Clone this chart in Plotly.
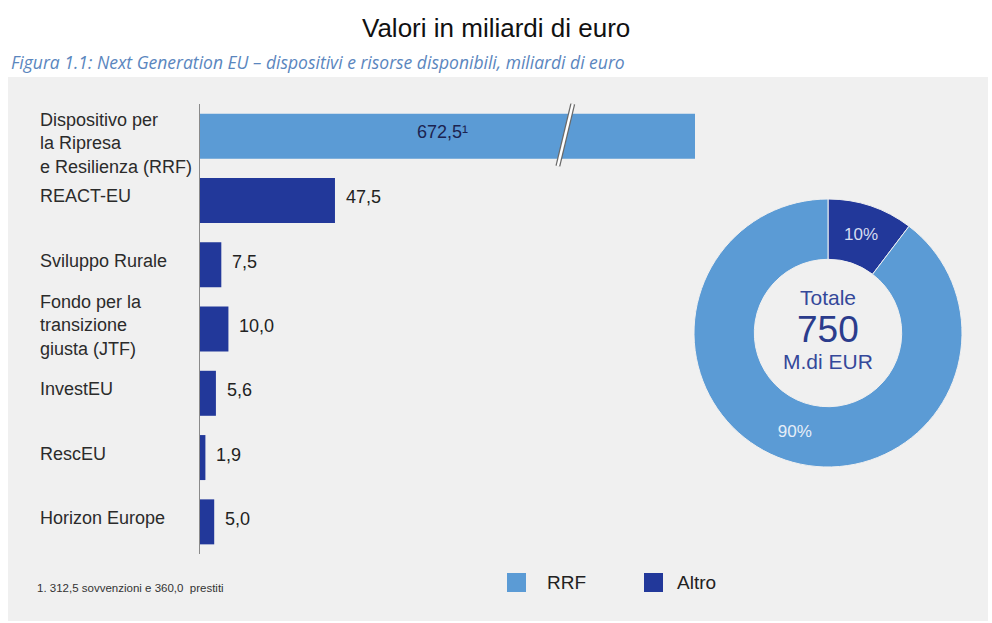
import plotly.graph_objects as go

# ---- data ----
categories = ["Dispositivo per<br>la Ripresa<br>e Resilienza (RRF)", "REACT-EU", "Sviluppo Rurale",
              "Fondo per la<br>transizione<br>giusta (JTF)", "InvestEU", "RescEU", "Horizon Europe"]
values = [672.5, 47.5, 7.5, 10.0, 5.6, 1.9, 5.0]
groups = ["RRF", "Altro", "Altro", "Altro", "Altro", "Altro", "Altro"]
value_labels = ["672,5¹", "47,5", "7,5", "10,0", "5,6", "1,9", "5,0"]
series_names = ["RRF", "Altro"]
total_label = "750"

W, H = 992, 623
COLORS = {"RRF": "#5B9BD5", "Altro": "#22389A"}

def px_x(p):
    return p / W

def px_y(p):
    return 1 - p / H

X_MAX = 174.2  # axis cut (broken bar)

fig = go.Figure()
for g in series_names:
    xs = [v for v, gg in zip(values, groups) if gg == g]
    ys = [c for c, gg in zip(categories, groups) if gg == g]
    fig.add_trace(go.Bar(x=xs, y=ys, orientation="h", name=g, marker_color=COLORS[g],
                         marker_line_width=0, hoverinfo="skip", showlegend=False))

totals = {g: sum(v for v, gg in zip(values, groups) if gg == g) for g in series_names}
pie_order = ["Altro", "RRF"]
fig.add_trace(go.Pie(labels=pie_order, values=[totals[g] for g in pie_order], hole=0.55, sort=False,
                     direction="clockwise", rotation=0,
                     marker=dict(colors=[COLORS[g] for g in pie_order], line=dict(color="#f0f0f0", width=1)),
                     texttemplate="%{percent:.0%}", textposition="inside",
                     insidetextorientation="horizontal",
                     textfont=dict(family="Arial", size=17, color=["#d6ddf0", "#e6eef8"]),
                     domain=dict(x=[px_x(694), px_x(962)], y=[px_y(467), px_y(199)]),
                     showlegend=False, hoverinfo="skip"))

annotations = []
# category labels (left aligned); the three-line RRF label sits a bit lower
for i, c in enumerate(categories):
    annotations.append(dict(x=px_x(38), xref="paper", y=c, yref="y", text=c, showarrow=False,
                            xanchor="left", yanchor="middle", align="left",
                            yshift=-7 if i == 0 else 4,
                            font=dict(family="Arial", size=18, color="#2b2b2b")))
# value labels
for c, v, lab, g in zip(categories, values, value_labels, groups):
    if v > X_MAX:
        annotations.append(dict(x=X_MAX * 0.49, xref="x", y=c, yref="y", text=lab, showarrow=False,
                                xanchor="center", yanchor="middle", yshift=4,
                                font=dict(family="Arial", size=18, color="#1c2350")))
    else:
        annotations.append(dict(x=v, xref="x", y=c, yref="y", text=lab, showarrow=False,
                                xanchor="left", yanchor="middle", xshift=9, yshift=3,
                                font=dict(family="Arial", size=18, color="#222222")))
# titles
annotations.append(dict(x=0.5, xref="paper", y=px_y(28), yref="paper", text="Valori in miliardi di euro",
                        showarrow=False, xanchor="center", yanchor="middle",
                        font=dict(family="Arial", size=26, color="#111111")))
annotations.append(dict(x=px_x(9), xref="paper", y=px_y(62), yref="paper",
                        text="<i>Figura 1.1: Next Generation EU – dispositivi e risorse disponibili, miliardi di euro</i>",
                        showarrow=False, xanchor="left", yanchor="middle",
                        font=dict(family="Open Sans", size=17.5, color="#5A86BE")))
# donut centre
cx = px_x(828)
annotations += [
    dict(x=cx, xref="paper", y=px_y(297), yref="paper", text="Totale", showarrow=False,
         xanchor="center", yanchor="middle",
         font=dict(family="Arial", size=21, color="#34489A")),
    dict(x=cx, xref="paper", y=px_y(330), yref="paper", text=total_label, showarrow=False,
         xanchor="center", yanchor="middle",
         font=dict(family="Arial", size=37, color="#2B3C8C")),
    dict(x=cx, xref="paper", y=px_y(361), yref="paper", text="M.di EUR", showarrow=False,
         xanchor="center", yanchor="middle",
         font=dict(family="Arial", size=21, color="#34489A")),
]
# footnote
annotations.append(dict(x=px_x(35), xref="paper", y=px_y(588), yref="paper",
                        text="1. 312,5 sovvenzioni e 360,0  prestiti", showarrow=False,
                        xanchor="left", yanchor="middle",
                        font=dict(family="Liberation Sans Narrow, Arial Narrow, Arial", size=11.5, color="#333333")))

shapes = [
    dict(type="rect", xref="paper", yref="paper", x0=px_x(8), x1=px_x(988), y0=px_y(621), y1=px_y(77),
         fillcolor="#F0F0F0", line_width=0, layer="below"),
    # axis break mark
    dict(type="line", xref="x", yref="paper", x0=X_MAX * 0.723, x1=X_MAX * 0.753,
         y0=px_y(166), y1=px_y(104), line=dict(color="#6a6a6a", width=5), layer="above"),
    dict(type="line", xref="x", yref="paper", x0=X_MAX * 0.723, x1=X_MAX * 0.753,
         y0=px_y(166), y1=px_y(104), line=dict(color="#ffffff", width=2.5), layer="above"),
]

# legend (drawn manually to match square size)
legend_sq = {"RRF": 507, "Altro": 644}
legend_tx = {"RRF": 545, "Altro": 675}
for g in series_names:
    x0 = legend_sq[g]
    shapes.append(dict(type="rect", xref="paper", yref="paper", x0=px_x(x0), x1=px_x(x0 + 19),
                       y0=px_y(592), y1=px_y(573), fillcolor=COLORS[g], line_width=0))
    annotations.append(dict(x=px_x(legend_tx[g]), xref="paper", y=px_y(582), yref="paper", text=g,
                            showarrow=False, xanchor="left", yanchor="middle",
                            font=dict(family="Arial", size=19, color="#222222")))

n = len(categories)
fig.update_layout(
    width=W, height=H, margin=dict(l=0, r=0, t=0, b=0),
    paper_bgcolor="white", plot_bgcolor="rgba(0,0,0,0)",
    barmode="relative", bargap=0.3, showlegend=False,
    xaxis=dict(domain=[px_x(200), px_x(695)], range=[0, X_MAX], visible=False, fixedrange=True),
    yaxis=dict(domain=[px_y(554), px_y(104)], categoryorder="array", categoryarray=categories,
               type="category", range=[n - 0.5, -0.5], autorange=False,
               showticklabels=False, ticks="", showgrid=False,
               showline=True, linecolor="#8a8a8a", linewidth=1, zeroline=False),
    annotations=annotations, shapes=shapes,
    font=dict(family="Arial"),
)

fig.write_html("out.html", config={"displayModeBar": False},
               post_script="document.body.style.margin='0';")
